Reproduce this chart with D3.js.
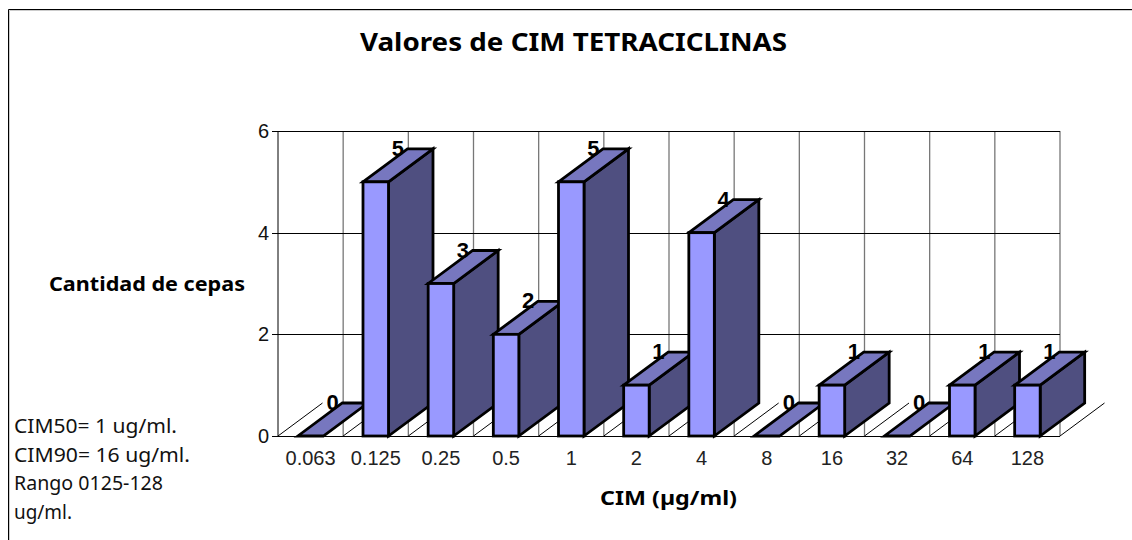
<!DOCTYPE html>
<html><head><meta charset="utf-8">
<script src="https://cdnjs.cloudflare.com/ajax/libs/d3/7.8.5/d3.min.js"></script>
<style>html,body{margin:0;padding:0;background:#fff}svg{display:block}</style></head>
<body><svg id="c" width="1132" height="540"></svg>
<script>
const categories=["0.063","0.125","0.25","0.5","1","2","4","8","16","32","64","128"];
const counts=[0,5,3,2,5,1,4,0,1,0,1,1];
const yTicks=[0,2,4,6];
const titleText="Valores de CIM TETRACICLINAS";
const yTitle="Cantidad de cepas";
const xTitle="CIM (µg/ml)";
const noteLines=["CIM50= 1 ug/ml.","CIM90= 16 ug/ml.","Rango 0125-128","ug/ml."];
const noteWidths=[163,176,149,58];

const svg=d3.select("#c");
const sans="'Liberation Sans',Arial,sans-serif", tah="'Noto Sans','DejaVu Sans',sans-serif";
const x=d3.scaleBand().domain(categories).range([278,1060]).paddingInner(0).paddingOuter(0);
const y=d3.scaleLinear().domain([0,6]).range([436,131]);
const depthX=44.5, depthY=33, barW=25.5;

svg.append("path").attr("d","M9.5,540V10.5H1132").attr("fill","none").attr("stroke","#ccc");
svg.append("path").attr("d","M8.5,540V9.5H1132").attr("fill","none").attr("stroke","#000");

const grid=svg.append("g");
d3.range(categories.length+1).forEach(i=>{
  const px=278+i*x.bandwidth();
  grid.append("line").attr("x1",px).attr("x2",px).attr("y1",131).attr("y2",436).attr("stroke",i==0?"#000":"#777").attr("stroke-width",i==0?1:1.3);
  grid.append("line").attr("x1",px).attr("x2",px+depthX).attr("y1",436).attr("y2",436-depthY).attr("stroke","#000");
});
yTicks.forEach(t=>{
  grid.append("line").attr("x1",272).attr("x2",1060).attr("y1",Math.round(y(t))+.5).attr("y2",Math.round(y(t))+.5).attr("stroke","#000");
  svg.append("text").attr("x",269).attr("y",y(t)+7).attr("text-anchor","end").attr("font-family",sans).attr("font-size",20).attr("fill","#111").text(t);
});
const bars=svg.append("g").attr("stroke","#000").attr("stroke-width",2.8).attr("stroke-linejoin","miter");
categories.forEach((c,i)=>{
  const x0=x(c)+(x.bandwidth()-barW)/2, x1=x0+barW, y0=y(0), yt=y(counts[i]);
  if(counts[i]>0){
    bars.append("polygon").attr("points",[[x1,y0],[x1+depthX,y0-depthY],[x1+depthX,yt-depthY],[x1,yt]].join(" ")).attr("fill","#4f4f80");
  }
  bars.append("polygon").attr("points",[[x0,yt],[x0+depthX,yt-depthY],[x1+depthX,yt-depthY],[x1,yt]].join(" ")).attr("fill","#7777bf");
  if(counts[i]>0) bars.append("rect").attr("x",x0).attr("y",yt).attr("width",barW).attr("height",y0-yt).attr("fill","#9999ff");
});
categories.forEach((c,i)=>{
  const cx=x(c)+x.bandwidth()/2, yt=y(counts[i]);
  svg.append("text").attr("x",cx+22).attr("y",yt-depthY+7).attr("text-anchor","middle").attr("font-family",sans).attr("font-weight","bold").attr("font-size",22).attr("fill","#000").text(counts[i]);
  svg.append("text").attr("x",cx).attr("y",465).attr("text-anchor","middle").attr("font-family",sans).attr("font-size",20).attr("fill","#222").text(c);
});
svg.append("text").attr("x",573.5).attr("y",51).attr("text-anchor","middle").attr("font-family",tah).attr("font-weight","bold").attr("font-size",25).attr("textLength",427).attr("lengthAdjust","spacingAndGlyphs").text(titleText);
svg.append("text").attr("x",147).attr("y",291).attr("text-anchor","middle").attr("font-family",tah).attr("font-weight","bold").attr("font-size",20).attr("textLength",196).attr("lengthAdjust","spacingAndGlyphs").text(yTitle);
svg.append("text").attr("x",668.5).attr("y",505).attr("text-anchor","middle").attr("font-family",tah).attr("font-weight","bold").attr("font-size",20).attr("textLength",137).attr("lengthAdjust","spacingAndGlyphs").text(xTitle);
noteLines.forEach((l,i)=>svg.append("text").attr("x",14).attr("y",433+i*28.5).attr("font-family",tah).attr("font-size",20).attr("fill","#111").attr("textLength",noteWidths[i]).attr("lengthAdjust","spacingAndGlyphs").text(l));
</script></body></html>
